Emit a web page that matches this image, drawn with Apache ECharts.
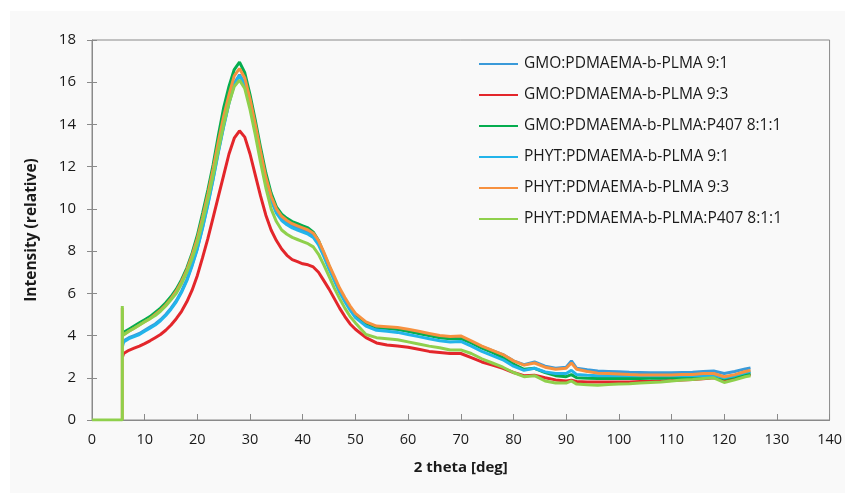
<!DOCTYPE html>
<html>
<head>
<meta charset="utf-8">
<script src="https://cdn.jsdelivr.net/npm/echarts@6/dist/echarts.min.js"></script>
<style>
html,body{margin:0;padding:0;background:#ffffff;}
#c{width:845px;height:493px;}
</style>
</head>
<body>
<div id="c"></div>
<script>
// ---- data ----
const seriesNames = [
  'GMO:PDMAEMA-b-PLMA 9:1',
  'GMO:PDMAEMA-b-PLMA 9:3',
  'GMO:PDMAEMA-b-PLMA:P407 8:1:1',
  'PHYT:PDMAEMA-b-PLMA 9:1',
  'PHYT:PDMAEMA-b-PLMA 9:3',
  'PHYT:PDMAEMA-b-PLMA:P407 8:1:1'
];
const xTicks = [0,10,20,30,40,50,60,70,80,90,100,110,120,130,140];
const yTicks = [0,2,4,6,8,10,12,14,16,18];

const X = [5.8,6,7,8,9,10,11,12,13,14,
  15,16,17,18,19,20,21,22,23,24,
  25,26,27,28,29,30,31,32,33,34,
  35,36,37,38,39,40,41,42,43,44,
  45,46,47,48,49,50,52,54,56,58,
  60,62,64,66,68,70,72,74,76,78,
  80,82,84,86,88,90,91,92,94,96,
  98,100,102,104,106,108,110,112,114,116,
  118,120,122,124,125];

const gmo91 = [3.6,3.75,3.9,4.0,4.1,4.25,4.4,4.55,4.75,5.0,
  5.3,5.65,6.1,6.65,7.35,8.15,9.15,10.25,11.45,12.75,
  13.95,15.05,15.95,16.35,15.95,15.05,13.9,12.6,11.4,10.5,
  9.9,9.55,9.35,9.2,9.1,9.0,8.9,8.75,8.4,7.85,
  7.25,6.7,6.15,5.7,5.3,4.95,4.55,4.35,4.35,4.3,
  4.22,4.12,4.02,3.93,3.9,3.92,3.7,3.47,3.28,3.1,
  2.8,2.62,2.75,2.55,2.45,2.5,2.8,2.45,2.38,2.32,
  2.3,2.28,2.26,2.25,2.24,2.24,2.24,2.25,2.26,2.3,
  2.32,2.2,2.3,2.42,2.47];

const gmo93 = [3.0,3.15,3.3,3.4,3.5,3.62,3.75,3.9,4.05,4.25,
  4.5,4.8,5.15,5.6,6.15,6.85,7.7,8.6,9.6,10.6,
  11.6,12.6,13.35,13.7,13.4,12.6,11.6,10.6,9.7,9.0,
  8.5,8.1,7.8,7.6,7.5,7.4,7.35,7.25,7.0,6.6,
  6.2,5.75,5.3,4.9,4.55,4.3,3.9,3.65,3.55,3.5,
  3.45,3.35,3.25,3.2,3.15,3.15,2.95,2.75,2.6,2.45,
  2.25,2.1,2.12,2.0,1.9,1.85,1.88,1.82,1.8,1.8,
  1.8,1.8,1.8,1.82,1.83,1.85,1.87,1.9,1.92,1.95,
  2.0,1.9,2.0,2.1,2.15];

const gmoP407 = [4.0,4.15,4.3,4.45,4.6,4.75,4.9,5.1,5.3,5.55,
  5.85,6.2,6.65,7.2,7.9,8.75,9.8,10.9,12.1,13.5,
  14.8,15.8,16.6,16.95,16.45,15.4,14.2,12.9,11.7,10.75,
  10.1,9.75,9.55,9.4,9.3,9.2,9.1,8.9,8.5,7.9,
  7.3,6.7,6.15,5.7,5.3,5.0,4.6,4.4,4.35,4.3,
  4.2,4.1,4.0,3.9,3.85,3.85,3.65,3.4,3.2,2.95,
  2.65,2.4,2.45,2.25,2.1,2.05,2.15,2.0,1.98,1.97,
  1.97,1.97,1.97,1.97,1.98,1.98,2.0,2.0,2.02,2.05,
  2.08,1.95,2.05,2.15,2.2];

const phyt91 = [3.5,3.7,3.85,3.95,4.05,4.2,4.35,4.5,4.7,4.95,
  5.25,5.6,6.05,6.6,7.3,8.1,9.1,10.2,11.4,12.7,
  13.9,15.0,15.9,16.3,15.9,15.0,13.8,12.5,11.3,10.4,
  9.8,9.45,9.25,9.1,9.0,8.9,8.8,8.65,8.3,7.75,
  7.15,6.6,6.05,5.6,5.2,4.85,4.45,4.25,4.2,4.15,
  4.05,3.95,3.85,3.75,3.7,3.72,3.5,3.25,3.05,2.85,
  2.55,2.35,2.45,2.28,2.2,2.2,2.35,2.15,2.12,2.1,
  2.1,2.1,2.1,2.1,2.1,2.1,2.1,2.1,2.1,2.1,
  2.12,2.0,2.1,2.25,2.3];

const phyt93 = [4.0,4.05,4.2,4.35,4.5,4.65,4.8,5.0,5.2,5.45,
  5.75,6.1,6.55,7.1,7.8,8.6,9.6,10.7,11.9,13.2,
  14.4,15.4,16.3,16.65,16.2,15.2,14.0,12.7,11.5,10.6,
  10.0,9.65,9.45,9.3,9.2,9.1,9.0,8.85,8.5,7.95,
  7.35,6.8,6.25,5.8,5.4,5.05,4.65,4.45,4.42,4.38,
  4.3,4.2,4.1,4.0,3.95,3.98,3.75,3.5,3.3,3.1,
  2.8,2.6,2.7,2.5,2.4,2.45,2.7,2.4,2.3,2.22,
  2.2,2.18,2.15,2.13,2.13,2.13,2.13,2.15,2.15,2.2,
  2.2,2.05,2.15,2.3,2.35];

const phytP407 = [4.0,4.05,4.2,4.35,4.5,4.65,4.8,4.95,5.15,5.4,
  5.7,6.0,6.45,7.0,7.65,8.4,9.4,10.45,11.6,12.8,
  14.0,15.0,15.8,16.1,15.7,14.7,13.5,12.2,11.0,10.0,
  9.4,9.0,8.8,8.65,8.55,8.45,8.35,8.2,7.85,7.35,
  6.8,6.25,5.75,5.3,4.9,4.6,4.05,3.9,3.85,3.8,
  3.7,3.6,3.5,3.42,3.32,3.32,3.15,2.9,2.7,2.5,
  2.25,2.05,2.1,1.85,1.75,1.75,1.85,1.7,1.67,1.65,
  1.68,1.7,1.72,1.75,1.78,1.8,1.85,1.9,1.92,1.97,
  2.0,1.78,1.9,2.05,2.1];

// leading points of the last series (baseline and start spike)
const phytP407Lead = [[0,0],[5.75,0],[5.75,5.4]];
const phyt93Lead = [[5.75,0],[5.75,5.3]];

const colors = ['#3a9ad9','#e3262b','#05ad4f','#22b4ea','#f7913f','#8fd04c'];

// ---- chart ----
function pairs(ys){ return X.map((x,i)=>[x, ys[i]]); }
const dataSets = [
  pairs(gmo91),
  pairs(gmo93),
  pairs(gmoP407),
  pairs(phyt91),
  phyt93Lead.concat(pairs(phyt93)),
  phytP407Lead.concat(pairs(phytP407))
];

const chart = echarts.init(document.getElementById('c'), null, {renderer:'canvas'});
const FONT = "'Open Sans', 'Liberation Sans', sans-serif";
const axisGray = '#8a8a8a';

const option = {
  animation: false,
  backgroundColor: '#ffffff',
  textStyle: {fontFamily: FONT},
  graphic: [{
    type: 'rect', left: 10, top: 11, z: -10,
    shape: {width: 835, height: 482},
    style: {fill: '#f9f9f9'}
  }],
  grid: {left: 92, right: 13, top: 40, bottom: 73, show: true,
    borderColor: axisGray, borderWidth: 1, backgroundColor: 'transparent'},
  legend: {
    orient: 'vertical', left: 474, top: 51,
    itemWidth: 39, itemHeight: 14, itemGap: 15,
    icon: 'path://M0,6 L39,6 L39,8 L0,8 Z',
    textStyle: {fontFamily: FONT, fontSize: 15.5, color: '#1a1a1a', padding: [0,0,0,1]},
    data: seriesNames
  },
  xAxis: {
    type: 'value', min: 0, max: 140, interval: 10,
    name: '2 theta [deg]', nameLocation: 'middle', nameGap: 40,
    nameTextStyle: {fontFamily: FONT, fontSize: 15, fontWeight: 'bold', color: '#1a1a1a'},
    axisLine: {show: true, lineStyle: {color: axisGray, width: 1}},
    axisTick: {show: true, inside: true, length: 6, lineStyle: {color: axisGray}},
    axisLabel: {fontFamily: FONT, fontSize: 14.5, color: '#1a1a1a', margin: 12,
      formatter: v => (xTicks.indexOf(v) >= 0 ? String(v) : '')},
    splitLine: {show: false}
  },
  yAxis: [{
    type: 'value', min: 0, max: 18, interval: 2,
    name: 'Intensity (relative)', nameLocation: 'middle', nameGap: 52,
    nameTextStyle: {fontFamily: FONT, fontSize: 15.5, fontWeight: 'bold', color: '#1a1a1a'},
    axisLine: {show: true, lineStyle: {color: axisGray, width: 1}},
    axisTick: {show: true, inside: false, length: 5, lineStyle: {color: axisGray}},
    axisLabel: {fontFamily: FONT, fontSize: 15, color: '#1a1a1a', margin: 16,
      formatter: v => (yTicks.indexOf(v) >= 0 ? String(v) : '')},
    splitLine: {show: false}
  },{
    type: 'value', min: 0, max: 18, interval: 2, position: 'left',
    axisLine: {show: false},
    axisTick: {show: true, inside: true, length: 5, lineStyle: {color: axisGray}},
    axisLabel: {show: false},
    splitLine: {show: false}
  }],
  series: seriesNames.map((name, i) => ({
    name: name,
    type: 'line',
    data: dataSets[i],
    symbol: 'none',
    showSymbol: false,
    smooth: false,
    color: colors[i],
    lineStyle: {color: colors[i], width: 3},
    itemStyle: {color: colors[i]},
    z: 2 + i
  }))
};
chart.setOption(option);
</script>
</body>
</html>
